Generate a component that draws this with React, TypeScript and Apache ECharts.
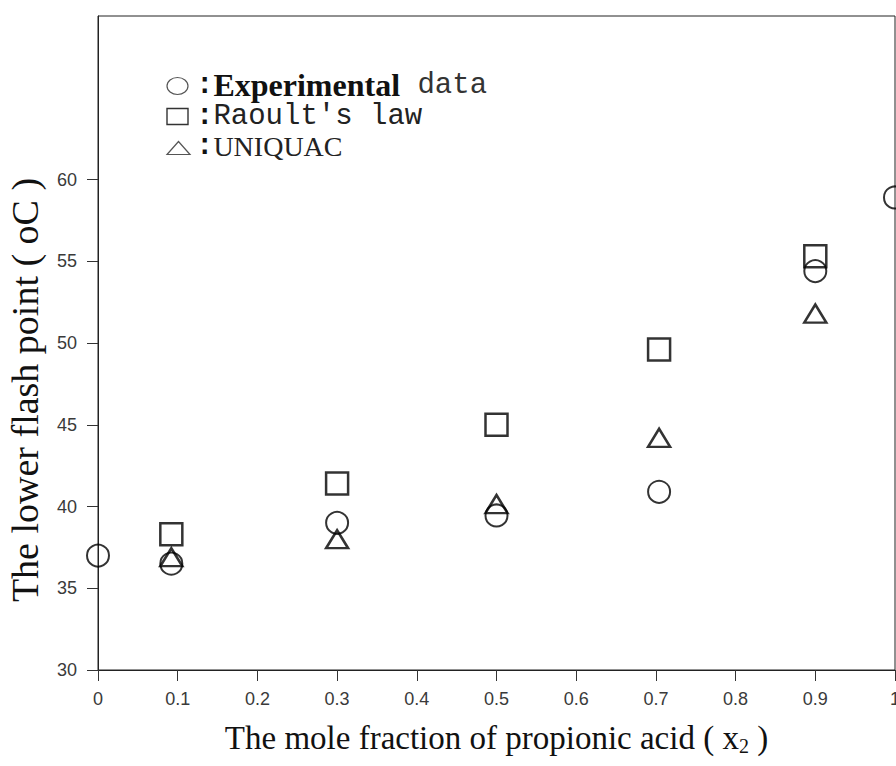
import React, { useEffect, useRef } from "react";
import * as echarts from "echarts";

const xValues = [0, 0.092, 0.3, 0.5, 0.704, 0.9, 1.0];
const experimental = [37.0, 36.5, 39.0, 39.45, 40.9, 54.4, 58.9];
const raoultX = [0.092, 0.3, 0.5, 0.704, 0.9];
const raoult = [38.3, 41.4, 45.0, 49.6, 55.3];
const uniquacX = [0.092, 0.3, 0.5, 0.704, 0.9];
const uniquac = [36.9, 38.0, 40.15, 44.2, 51.8];
const yTicks = [30, 35, 40, 45, 50, 55, 60];

const SERIF = "'Liberation Serif', 'Times New Roman', serif";
const MONO = "'Liberation Mono', monospace";
const SANS = "'Liberation Sans', Arial, sans-serif";

export default function App() {
  const ref = useRef<HTMLDivElement>(null);
  useEffect(() => {
    if (!ref.current) return;
    const chart = echarts.init(ref.current, null, { renderer: "svg" });
    const pair = (xs: number[], ys: number[]) => xs.map((x, i) => [x, ys[i]]);
    chart.setOption({
      animation: false,
      backgroundColor: "#ffffff",
      grid: {
        left: 98,
        top: 16,
        right: 1,
        bottom: 96,
        outerBoundsMode: "none",
        containLabel: false,
        show: true,
        borderColor: "#222",
        borderWidth: 1,
        backgroundColor: "transparent",
      },
      xAxis: {
        type: "value",
        min: 0,
        max: 1,
        interval: 0.1,
        name: "The mole fraction of propionic acid ( x{sub|2} )",
        nameLocation: "middle",
        nameGap: 50,
        nameTextStyle: {
          fontFamily: SERIF,
          fontSize: 33,
          color: "#111",
          rich: {
            sub: { fontFamily: SERIF, fontSize: 20, color: "#111", padding: [16, 0, 0, 0] },
          },
        },
        axisLine: { show: true, lineStyle: { color: "#222", width: 1 } },
        axisTick: { show: true, inside: false, length: 11, lineStyle: { color: "#333" } },
        axisLabel: {
          margin: 20,
          fontFamily: SANS,
          fontSize: 18,
          color: "#3a3a3a",
          showMaxLabel: true,
          showMinLabel: true,
          hideOverlap: false,
          formatter: (v: number) => (v === 0 ? "0" : v === 1 ? "1" : v.toFixed(1)),
        },
        splitLine: { show: false },
      },
      yAxis: {
        type: "value",
        min: 30,
        max: 70,
        interval: 5,
        axisLine: { show: true, lineStyle: { color: "#222", width: 1 } },
        axisTick: {
          show: true,
          length: 11,
          lineStyle: { color: "#333" },
          customValues: yTicks,
        },
        axisLabel: {
          margin: 21,
          fontFamily: SANS,
          fontSize: 18,
          color: "#3a3a3a",
          customValues: yTicks,
        },
        splitLine: { show: false },
      },
      series: [
        {
          name: "Experimental data",
          type: "scatter",
          symbol: "circle",
          symbolSize: 22,
          clip: false,
          itemStyle: { color: "transparent", borderColor: "#000", borderWidth: 2 },
          data: pair(xValues, experimental),
          z: 3,
        },
        {
          name: "Raoult's law",
          type: "scatter",
          symbol: "rect",
          symbolSize: 22,
          clip: false,
          itemStyle: { color: "transparent", borderColor: "#000", borderWidth: 2.5 },
          data: pair(raoultX, raoult),
          z: 2,
        },
        {
          name: "UNIQUAC",
          type: "scatter",
          symbol: "triangle",
          symbolSize: [22, 18],
          clip: false,
          itemStyle: { color: "transparent", borderColor: "#000", borderWidth: 2.5 },
          data: pair(uniquacX, uniquac),
          z: 4,
        },
      ],
      graphic: [
        {
          type: "text",
          x: 25,
          y: 390,
          rotation: Math.PI / 2,
          style: {
            text: "The lower flash point ( oC )",
            fontFamily: SERIF,
            fontSize: 38,
            fill: "#111",
            align: "center",
            verticalAlign: "middle",
          },
        },
        {
          type: "ellipse",
          shape: { cx: 177.5, cy: 86, rx: 10.5, ry: 8.5 },
          style: { fill: "none", stroke: "#555", lineWidth: 1.2 },
        },
        {
          type: "rect",
          shape: { x: 167, y: 108.5, width: 21, height: 16 },
          style: { fill: "none", stroke: "#333", lineWidth: 1.4 },
        },
        {
          type: "polygon",
          shape: { points: [[167, 154.5], [190, 154.5], [178.5, 141.5]] },
          style: { fill: "none", stroke: "#555", lineWidth: 1.2 },
        },
        {
          type: "text",
          x: 196,
          y: 85,
          style: {
            text: "{c|:}{b|Experimental}{m| data}",
            verticalAlign: "middle",
            fill: "#111",
            rich: {
              c: { fontFamily: MONO, fontSize: 29, fontWeight: "bold", fill: "#111" },
              b: { fontFamily: SERIF, fontSize: 32, fontWeight: "bold", fill: "#111" },
              m: { fontFamily: MONO, fontSize: 29, fill: "#333" },
            },
          },
        },
        {
          type: "text",
          x: 196,
          y: 116,
          style: {
            text: "{c|:}{m|Raoult's law}",
            verticalAlign: "middle",
            fill: "#111",
            rich: {
              c: { fontFamily: MONO, fontSize: 29, fontWeight: "bold", fill: "#111" },
              m: { fontFamily: MONO, fontSize: 29, fill: "#222" },
            },
          },
        },
        {
          type: "text",
          x: 196,
          y: 146,
          style: {
            text: "{c|:}{s|UNIQUAC}",
            verticalAlign: "middle",
            fill: "#111",
            rich: {
              c: { fontFamily: MONO, fontSize: 29, fontWeight: "bold", fill: "#111" },
              s: { fontFamily: SERIF, fontSize: 28, fill: "#222" },
            },
          },
        },
      ],
    });
    return () => chart.dispose();
  }, []);
  return <div ref={ref} style={{ width: 896, height: 766, position: "absolute", left: 0, top: 0 }} />;
}
